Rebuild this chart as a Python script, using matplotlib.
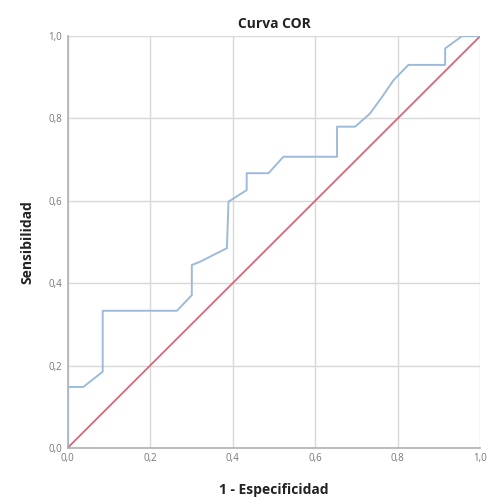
import matplotlib
matplotlib.use("Agg")
import matplotlib.pyplot as plt
from matplotlib.ticker import FixedLocator, FuncFormatter

plt.rcParams['font.family'] = ['Open Sans', 'DejaVu Sans']

# ROC curve points (1 - specificity, sensitivity)
fpr = [0.0, 0.0, 0.038, 0.085, 0.085, 0.265, 0.301, 0.301, 0.321, 0.386, 0.390,
       0.434, 0.434, 0.487, 0.523, 0.653, 0.653, 0.697, 0.733, 0.762, 0.790,
       0.826, 0.915, 0.915, 0.956, 1.0]
tpr = [0.0, 0.148, 0.148, 0.185, 0.333, 0.333, 0.371, 0.444, 0.452, 0.485, 0.598,
       0.626, 0.667, 0.667, 0.707, 0.707, 0.780, 0.780, 0.812, 0.852, 0.893,
       0.930, 0.930, 0.970, 1.0, 1.0]
ref_x = [0.0, 1.0]
ref_y = [0.0, 1.0]
ticks = [0.0, 0.2, 0.4, 0.6, 0.8, 1.0]

fig = plt.figure(figsize=(4.90, 5.01), dpi=100)
ax = fig.add_axes([0.138, 0.106, 0.842, 0.822])

ax.plot(ref_x, ref_y, color="#d26a78", lw=1.3, zorder=3)
ax.plot(fpr, tpr, color="#9dbbd9", lw=1.4, zorder=4)

ax.set_xlim(0, 1)
ax.set_ylim(0, 1)
ax.xaxis.set_major_locator(FixedLocator(ticks))
ax.yaxis.set_major_locator(FixedLocator(ticks))
fmt = FuncFormatter(lambda v, p: f"{v:.1f}".replace(".", ","))
ax.xaxis.set_major_formatter(fmt)
ax.yaxis.set_major_formatter(fmt)
ax.grid(True, color="#d8d8d8", lw=1.0)
ax.set_axisbelow(True)
for s in ["top", "right"]:
    ax.spines[s].set_visible(False)
for s in ["left", "bottom"]:
    ax.spines[s].set_color("#b0b0b0")
    ax.spines[s].set_linewidth(1.2)
ax.tick_params(length=0, labelsize=7, colors="#777777", pad=4)

ax.set_title("Curva COR", fontsize=10, fontweight="bold", color="#222222", pad=6)
ax.set_xlabel("1 - Especificidad", fontsize=10, fontweight="bold", color="#222222", labelpad=13)
ax.set_ylabel("Sensibilidad", fontsize=10, fontweight="bold", color="#222222", labelpad=10)

fig.savefig("out.png", dpi=100, facecolor="white")
